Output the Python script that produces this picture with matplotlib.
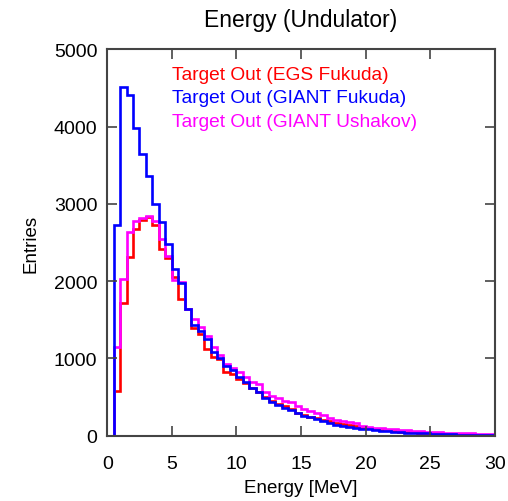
import numpy as np
import matplotlib.pyplot as plt

plt.rcParams['font.family'] = ['Liberation Sans', 'DejaVu Sans']

# 0.5 MeV bins from 0 to 30 MeV
edges = np.arange(0, 30.01, 0.5)

egs_fukuda = [0, 580, 1720, 2310, 2670, 2790, 2835, 2720, 2420, 2300,
              2050, 1770, 1640, 1400, 1316, 1120, 1014, 990, 820, 800,
              740, 680, 620, 560, 500, 450, 410, 380, 340, 300,
              270, 245, 225, 205, 185, 165, 150, 135, 120, 105,
              95, 85, 75, 68, 60, 54, 48, 42, 38, 34,
              30, 27, 24, 21, 19, 17, 15, 13, 11, 9]

giant_fukuda = [0, 2720, 4510, 4410, 3980, 3650, 3355, 3000, 2760, 2480,
                2160, 1970, 1640, 1430, 1360, 1250, 1080, 1000, 906, 850,
                760, 690, 620, 560, 490, 440, 400, 360, 330, 290,
                260, 240, 220, 190, 170, 145, 130, 115, 105, 92,
                82, 74, 66, 58, 52, 46, 41, 37, 33, 29,
                26, 23, 20, 18, 16, 14, 12, 10, 9, 8]

giant_ushakov = [0, 1150, 2030, 2630, 2780, 2820, 2840, 2780, 2550, 2330,
                 2010, 1990, 1640, 1510, 1406, 1290, 1144, 1050, 930, 880,
                 830, 760, 700, 670, 560, 520, 490, 450, 440, 380,
                 345, 320, 300, 270, 230, 200, 190, 175, 165, 130,
                 110, 105, 100, 92, 85, 75, 70, 64, 58, 52,
                 48, 44, 40, 37, 34, 32, 30, 28, 25, 22]

labels = ['Target Out (EGS Fukuda)', 'Target Out (GIANT Fukuda)', 'Target Out (GIANT Ushakov)']
colors = ['#ff0000', '#0000ff', '#ff00ff']

fig = plt.figure(figsize=(5.08, 5.02), dpi=100)
ax = fig.add_axes([0.211, 0.130, 0.763, 0.770])

ax.stairs(egs_fukuda, edges, color=colors[0], lw=1.9)
ax.stairs(giant_ushakov, edges, color=colors[2], lw=1.9)
ax.stairs(giant_fukuda, edges, color=colors[1], lw=1.9)

ax.set_xlim(0, 30)
ax.set_ylim(0, 5000)
ax.set_xticks(np.arange(0, 31, 5))
ax.set_yticks(np.arange(0, 5001, 1000))
ax.tick_params(direction='in', top=True, right=True, length=7, width=1.2,
               labelsize=14, color='#444444')
ax.tick_params(axis='x', pad=14)
ax.tick_params(axis='y', pad=7)
for s in ax.spines.values():
    s.set_linewidth(1.5)
    s.set_color('#444444')

ax.set_title('Energy (Undulator)', fontsize=16.5, pad=17)
ax.set_xlabel('Energy [MeV]', fontsize=13.5, labelpad=5)
ax.set_ylabel('Entries', fontsize=13.5, labelpad=10)

# legend as coloured text lines
for i, (lab, c) in enumerate(zip(labels, colors)):
    ax.text(0.168, 0.935 - i * 0.061, lab, color=c, fontsize=13.8,
            transform=ax.transAxes, va='center', ha='left')

fig.savefig('out.png', dpi=100)
